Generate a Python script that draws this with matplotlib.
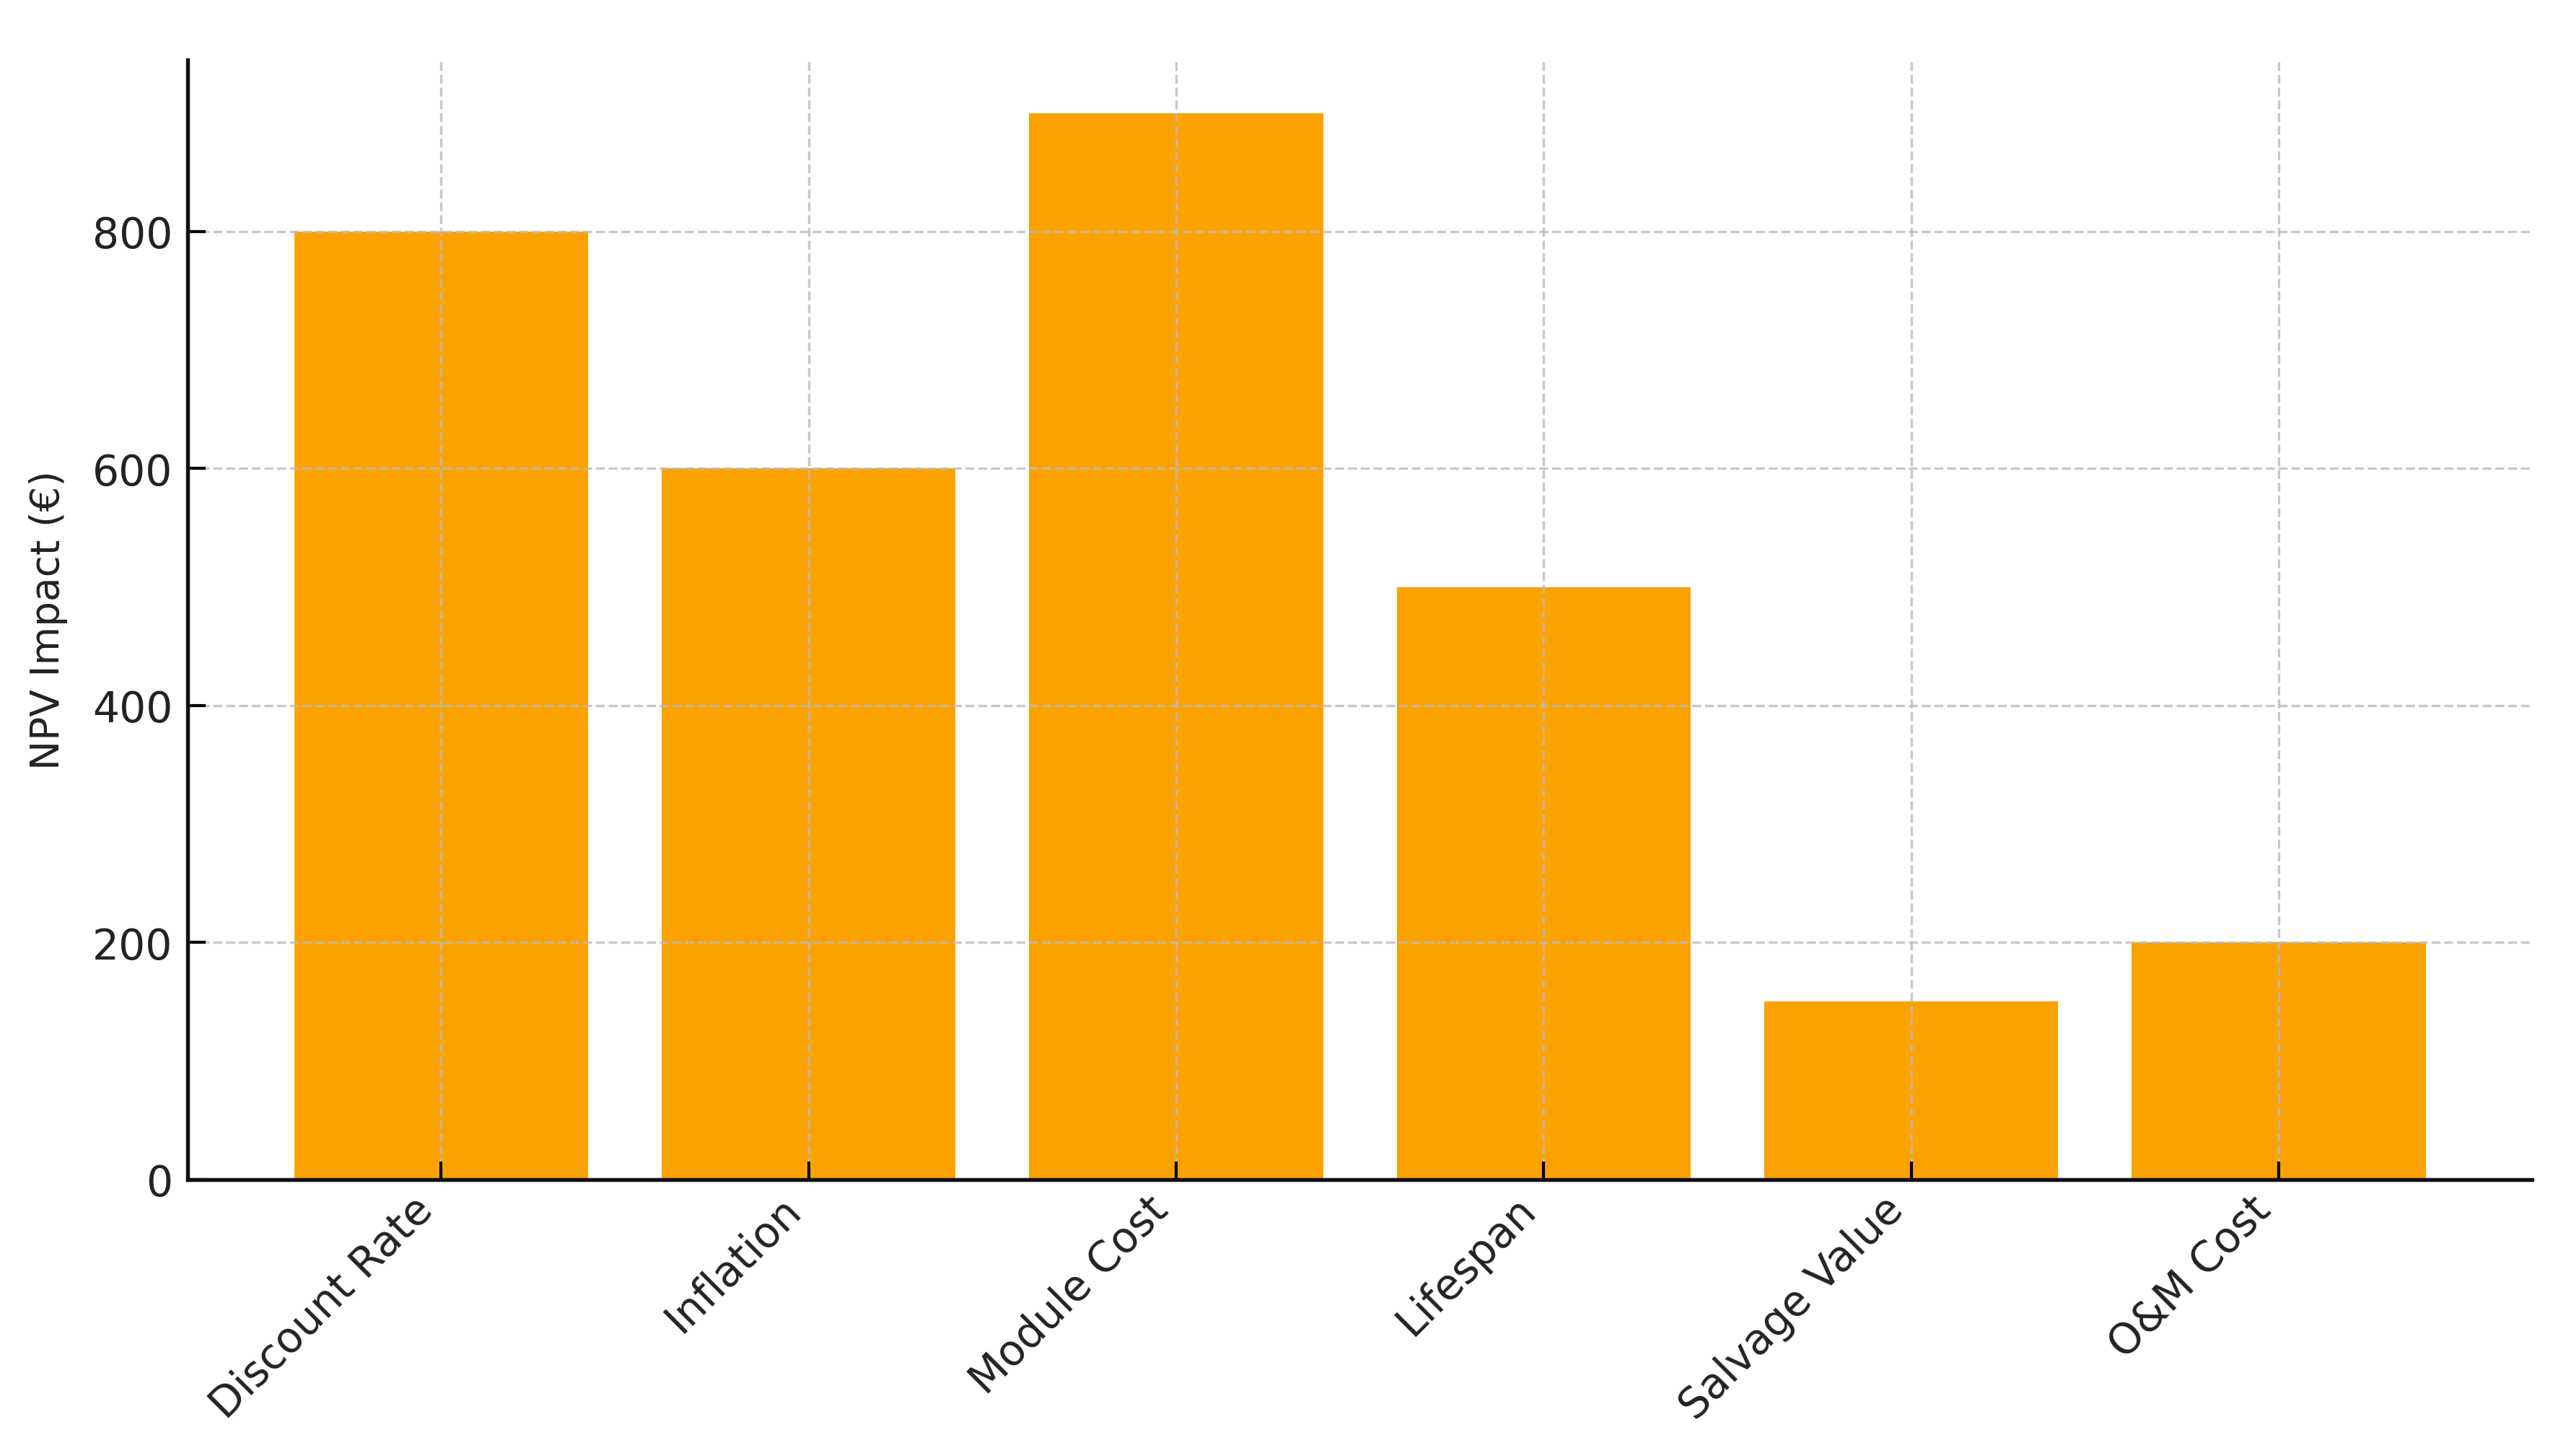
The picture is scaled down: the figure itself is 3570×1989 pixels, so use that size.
import matplotlib
matplotlib.use("Agg")
import matplotlib.pyplot as plt

categories = ["Discount Rate", "Inflation", "Module Cost", "Lifespan", "Salvage Value", "O&M Cost"]
npv_impact = [800, 600, 900, 500, 150, 200]

plt.rcParams['font.family'] = ['DejaVu Sans']
fig, ax = plt.subplots(figsize=(11.9, 6.6333), dpi=300)
fig.subplots_adjust(left=0.0728, right=0.983, top=0.958, bottom=0.178)

ax.bar(categories, npv_impact, color='#FBA200', width=0.8, zorder=1)
ax.set_ylabel("NPV Impact (€)", fontsize=13.2, color='#222222', labelpad=8)
ax.set_yticks([0, 200, 400, 600, 800])
ax.tick_params(axis='both', direction='in', length=6, width=1.0, labelsize=14, labelcolor='#222222')
ax.tick_params(axis='y', pad=5)
ax.tick_params(axis='x', pad=3)
plt.setp(ax.get_xticklabels(), rotation=45, ha='right')

ax.grid(True, linestyle='--', color='#bbbbbb', linewidth=0.8, alpha=0.8, zorder=2)
ax.set_axisbelow(False)

for s in ['top', 'right']:
    ax.spines[s].set_visible(False)
for s in ['left', 'bottom']:
    ax.spines[s].set_linewidth(1.3)
    ax.spines[s].set_color('#111111')
    ax.spines[s].set_zorder(3)

fig.savefig("out.png", dpi=300)
